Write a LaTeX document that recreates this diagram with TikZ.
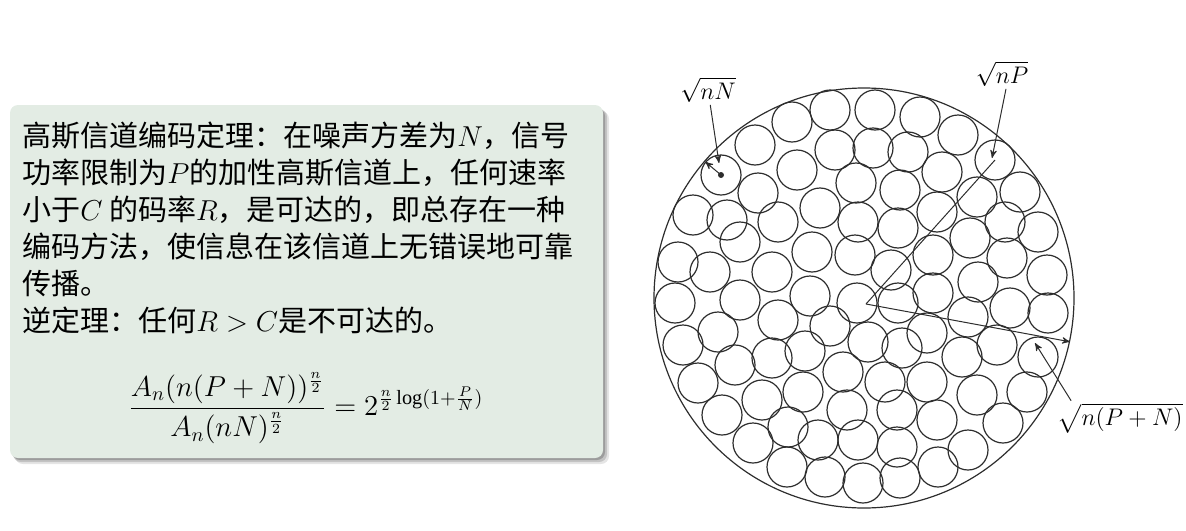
\documentclass[tikz,border=0pt]{standalone}
\usepackage{amsmath}
\usepackage{fontspec}
\setmainfont{Liberation Serif}
\newfontfamily\cjk{Noto Sans CJK SC}
\usetikzlibrary{arrows}
\definecolor{blockbg}{RGB}{227,236,228}
\definecolor{ink}{RGB}{45,45,45}

\begin{document}
\begin{tikzpicture}[x=0.5pt,y=-0.5pt,>=stealth',
  ball/.style={circle,draw=ink,line width=0.6pt,minimum size=20pt,inner sep=0pt},
  shell/.style={circle,draw=ink,line width=0.6pt,minimum size=210pt,inner sep=0pt},
  pointer/.style={->,draw=ink,line width=0.5pt},
  label node/.style={font=\fontsize{12.5}{14}\selectfont,inner sep=1pt}]
  \useasboundingbox (0,0) rectangle (1186,530);

  % block with shadow
  \fill[black,opacity=0.10,rounded corners=4pt] (15,111) rectangle (609,464);
  \fill[black,opacity=0.15,rounded corners=4pt] (13,109) rectangle (607,462);
  \fill[black,opacity=0.20,rounded corners=4pt] (12,108) rectangle (605,460);
  \fill[blockbg,rounded corners=4pt] (10,105) rectangle (603,458);

  \node[anchor=north west,align=left,inner sep=0pt,
    font=\cjk\fontsize{14.5}{18.5}\selectfont] (thm) at (22,122)
    {高斯信道编码定理：在噪声方差为$N$，信号\\
     功率限制为$P$的加性高斯信道上，任何速率\\
     小于$C$ 的码率$R$，是可达的，即总存在一种\\
     编码方法，使信息在该信道上无错误地可靠\\
     传播。\\
     逆定理：任何$R > C$是不可达的。};
  \node[font=\fontsize{14.5}{18.5}\selectfont] (capacity) at (306,408)
    {$\displaystyle \frac{A_n(n(P+N))^{\frac{n}{2}}}{A_n(nN)^{\frac{n}{2}}}
      = 2^{\frac{n}{2}\log(1+\frac{P}{N})}$};

  % sphere packing
  \node[shell] (shell) at (864,298) {};
  \foreach \x/\y [count=\i] in {830/110,792/122,755/145,835/150,797/170,
    758/193,820/208,693/215,727/220,778/222,740/242,812/252,678/262,
    710/272,772/272,855/255,858/222,856/183,
    875/110,920/117,958/135,873/148,908/152,942/172,900/190,1020/192,
    977/197,937/212,898/228,1005/222,1038/232,970/238,933/255,1007/258,
    891/270,1047/275,978/282,933/293,
    675/303,740/300,778/320,810/296,718/332,830/326,683/345,772/358,
    805/351,735/365,698/383,843/372,762/400,803/392,722/415,788/427,
    818/440,847/410,753/443,787/467,825/477,
    857/303,898/303,968/317,1010/308,1048/313,868/342,902/348,927/333,
    962/357,997/345,885/382,927/382,977/395,1027/392,897/410,937/420,
    1003/423,858/440,897/447,968/450,938/467,863/483,900/478}
    \node[ball] (c\i) at (\x,\y) {};
  \node[ball] (cN) at (721,175) {};
  \node[ball] (cP) at (995,160) {};
  \node[ball] (cR) at (1038,357) {};

  \node[label node] (lblN) at (708,90) {$\sqrt{nN}$};
  \node[label node] (lblP) at (1002,74) {$\sqrt{nP}$};
  \node[label node] (lblR) at (1120,418) {$\sqrt{n(P+N)}$};
  \coordinate (vertex) at (866,304);
  \coordinate (tipN) at (719,163);
  \coordinate (tipP) at (992,158);
  \coordinate (tipR) at (1035,343);

  \fill[ink] (cN.center) circle (1.5pt);
  \draw[pointer] (cN.center) -- (cN.140);
  \draw[ink,line width=0.5pt] (vertex) -- (cP.center);
  \draw[pointer] (vertex) -- (shell.-12);
  \draw[pointer] (lblN) -- (tipN);
  \draw[pointer] (lblP.-75) -- (tipP);
  \draw[pointer] ([xshift=8pt]lblR.north west) -- (tipR);
\end{tikzpicture}
\end{document}
